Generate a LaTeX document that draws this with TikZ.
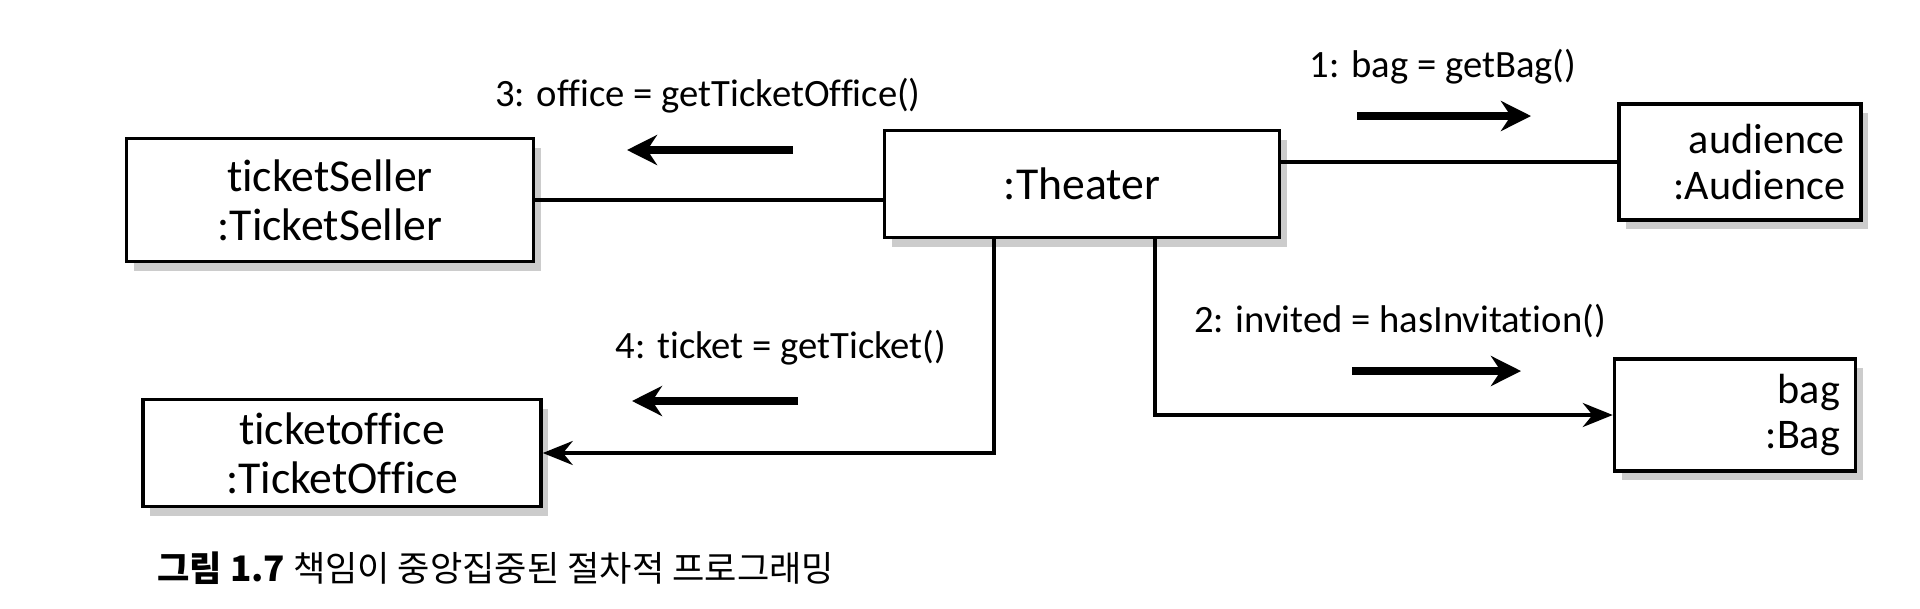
\documentclass[tikz,border=0pt]{standalone}
\usepackage{fontspec}
\setmainfont{Carlito}[Ligatures=NoCommon]
\newfontfamily\krfont{Noto Sans CJK KR}
\usetikzlibrary{arrows.meta,shadows}

\tikzset{
  obj/.style={draw, line width=1pt, fill=white, font=\fontsize{13}{14}\selectfont,
    drop shadow={shadow xshift=0.7mm, shadow yshift=-0.9mm, fill=black!40, opacity=.5}},
  link/.style={line width=1pt},
  call/.style={line width=1pt, -{Stealth[length=3mm,width=2.4mm]}},
  msg/.style={line width=2pt, -{Stealth[length=3mm,width=3mm]}},
  lbl/.style={font=\fontsize{11}{13}\selectfont}
}

\begin{document}
\begin{tikzpicture}
  \useasboundingbox (0,0) rectangle (19.2,6.08);

  \node[obj, minimum width=4.07cm, minimum height=1.23cm, align=center] (seller) at (3.30,4.08) {ticketSeller\\:TicketSeller};
  \node[obj, minimum width=3.98cm, minimum height=1.07cm, align=center] (office) at (3.42,1.55) {ticketoffice\\:TicketOffice};
  \node[obj, minimum width=3.95cm, minimum height=1.07cm] (theater) at (10.82,4.24) {:Theater};
  \node[obj, minimum width=2.42cm, minimum height=1.16cm, text width=2.1cm, align=right, font=\fontsize{12}{13}\selectfont] (audience) at (17.40,4.46) {audience\\:Audience};
  \node[obj, minimum width=2.41cm, minimum height=1.12cm, text width=2.1cm, align=right, font=\fontsize{12}{13}\selectfont] (bag) at (17.35,1.93) {bag\\:Bag};

  \draw[link] (seller.east) -- (seller.east -| theater.west);
  \draw[link] (audience.west) -- (audience.west -| theater.east);
  \draw[call] ([xshift=-0.88cm]theater.south) |- (office.east);
  \draw[call] ([xshift=0.73cm]theater.south) |- (bag.west);

  \node[lbl] (m1) at (14.43,5.41) {1: bag = getBag()};
  \node[lbl] (m2) at (14.00,2.87) {2: invited = hasInvitation()};
  \node[lbl] (m3) at (7.08,5.12) {3: office = getTicketOffice()};
  \node[lbl] (m4) at (7.81,2.60) {4: ticket = getTicket()};

  \coordinate (a1) at (13.57,4.92);
  \coordinate (a2) at (13.52,2.37);
  \coordinate (a3) at (7.93,4.58);
  \coordinate (a4) at (7.98,2.07);
  \draw[msg] (a1) -- ++(1.74,0);
  \draw[msg] (a2) -- ++(1.69,0);
  \draw[msg] (a3) -- ++(-1.66,0);
  \draw[msg] (a4) -- ++(-1.66,0);

  \node[anchor=west, font=\krfont\fontsize{10}{12}\selectfont] (cap) at (1.45,0.40) {\textbf{그림 1.7} 책임이 중앙집중된 절차적 프로그래밍};
\end{tikzpicture}
\end{document}
